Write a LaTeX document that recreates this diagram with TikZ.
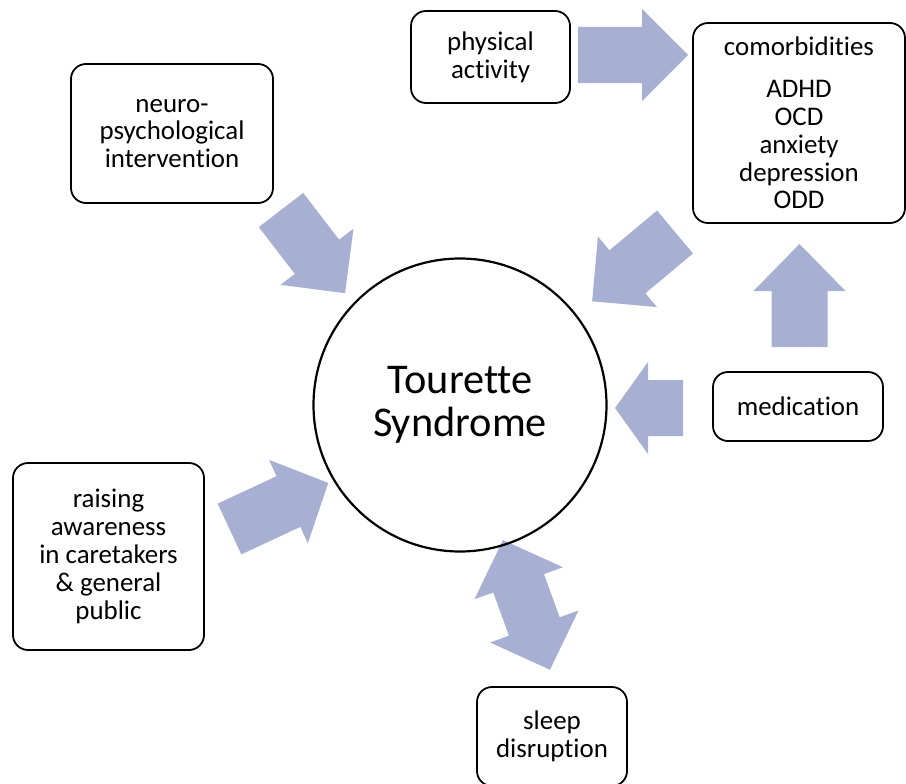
\documentclass[tikz,border=0pt]{standalone}
\usepackage{fontspec}
\setmainfont{Carlito}[Ligatures=NoCommon]
\usepackage{tikz}
\definecolor{arrowblue}{RGB}{167,176,210}
\tikzset{
  box/.style={draw, line width=1.8bp, rounded corners=15bp, align=center, inner sep=0pt,
              font=\fontsize{27}{28}\selectfont},
  ts/.style={draw, circle, line width=2.2bp, minimum size=293bp, align=center,
             font=\fontsize{42.5}{43}\selectfont},
  arrowfill/.style={fill=arrowblue}
}
% tail x, tail y, angle (clockwise), length, head length
\newcommand{\fatarrow}[5]{%
  \begin{scope}[shift={(#1,#2)},rotate={-(#3)}]
    \fill[arrowfill] (0,-28) -- (#4-#5,-28) -- (#4-#5,-46) -- (#4,0)
      -- (#4-#5,46) -- (#4-#5,28) -- (0,28) -- cycle;
  \end{scope}}
% tip x, tip y, angle, length
\newcommand{\fatdarrow}[4]{%
  \begin{scope}[shift={(#1,#2)},rotate={-(#3)}]
    \fill[arrowfill] (0,0) -- (46,-47) -- (46,-27) -- (#4-46,-27) -- (#4-46,-47)
      -- (#4,0) -- (#4-46,47) -- (#4-46,27) -- (46,27) -- (46,47) -- cycle;
  \end{scope}}

\begin{document}
\begin{tikzpicture}[x=1bp,y=-1bp]
\useasboundingbox (0,0) rectangle (906,784);
%-------->block arrows<--------------
\fatarrow{578}{55}{0}{110}{46}      % physical activity
\fatarrow{281}{210}{52.4}{105}{46}  % neuro
\fatarrow{675}{232}{140.1}{108}{46} % comorbidities
\fatarrow{799.5}{347}{-90}{103}{47} % medication up
\fatarrow{683}{408}{180}{68}{33}    % medication left
\fatarrow{229.5}{529}{-25}{109}{44} % awareness
\fatdarrow{503}{540}{70.1}{138}     % sleep
%-------->nodes<--------------
\node[ts] (tourette) at (460,405) {Tourette\\Syndrome};
\node[box, minimum width=159bp, minimum height=92bp] (activity) at (490.5,57) {physical\\activity};
\node[box, minimum width=212bp, minimum height=200bp] (comorb) at (799,123)
  {comorbidities\\[14bp]ADHD\\OCD\\anxiety\\depression\\ODD};
\node[box, minimum width=202bp, minimum height=139bp] (neuro) at (172,133.5)
  {neuro-\\psychological\\intervention};
\node[box, minimum width=170bp, minimum height=69bp] (medication) at (798,406.5) {medication};
\node[box, minimum width=191bp, minimum height=187bp] (awareness) at (108.5,556.5)
  {raising\\awareness\\in caretakers\\\& general\\public};
\node[box, minimum width=150bp, minimum height=99bp] (sleep) at (552,736.5) {sleep\\disruption};
\end{tikzpicture}
\end{document}
